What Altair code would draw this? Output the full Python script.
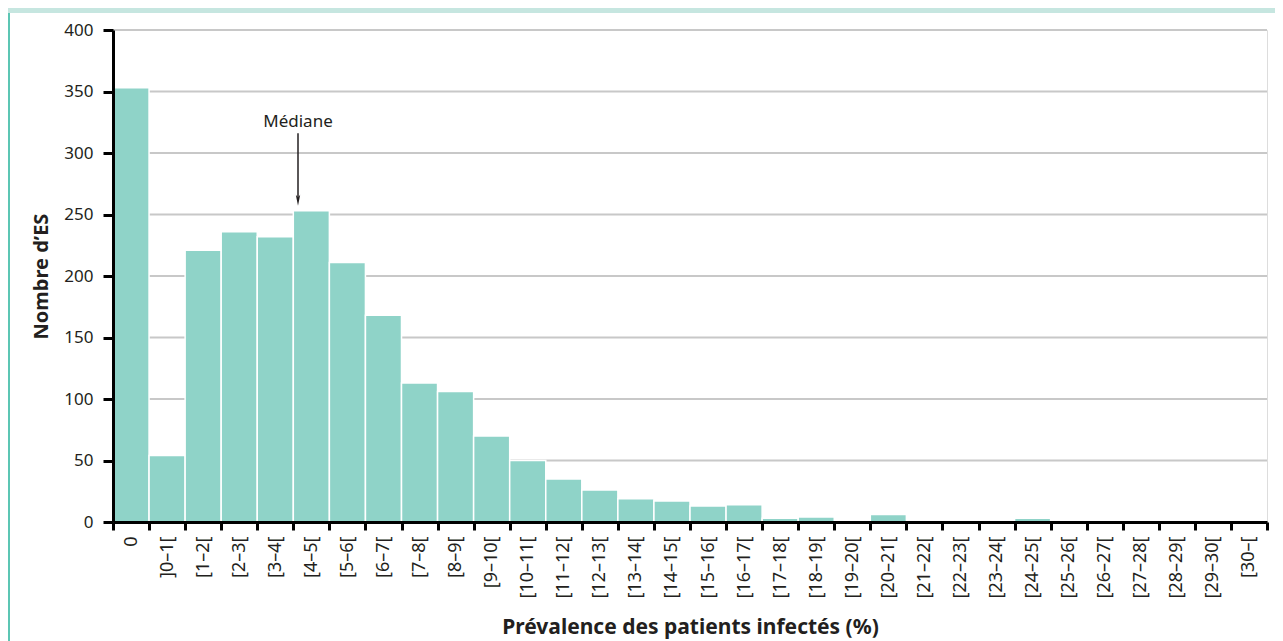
import altair as alt
import pandas as pd

categories = ["0", "]0–1[", "[1–2[", "[2–3[", "[3–4[", "[4–5[", "[5–6[", "[6–7[",
              "[7–8[", "[8–9[", "[9–10[", "[10–11[", "[11–12[", "[12–13[", "[13–14[",
              "[14–15[", "[15–16[", "[16–17[", "[17–18[", "[18–19[", "[19–20[",
              "[20–21[", "[21–22[", "[22–23[", "[23–24[", "[24–25[", "[25–26[",
              "[26–27[", "[27–28[", "[28–29[", "[29–30[", "[30–["]
counts = [353, 54, 221, 236, 232, 253, 211, 168, 113, 106, 70, 50, 35, 26, 19,
          17, 13, 14, 3, 4, 0, 6, 0, 1, 0, 3, 0, 0, 0, 0, 0, 0]
y_ticks = [0, 50, 100, 150, 200, 250, 300, 350, 400]
grid_values = [50, 100, 150, 200, 250, 300, 350, 400]
median_label = ["Médiane"]
median_cat = ["[4–5["]

FONT = "Noto Sans"
DARK = "#231f20"

df = pd.DataFrame({"cat": categories, "count": counts})
grid_df = pd.DataFrame({"v": grid_values})
med_df = pd.DataFrame({"label": median_label, "cat": median_cat})

xscale = alt.Scale(domain=categories, paddingInner=0, paddingOuter=0)
yscale = alt.Scale(domain=[0, 400], nice=False)

yaxis = alt.Axis(title="Nombre d’ES", values=y_ticks, grid=False,
                 domainColor="black", domainWidth=3,
                 tickColor="black", tickWidth=3, tickSize=10,
                 labelPadding=10, labelFontSize=17, labelColor=DARK,
                 labelFont=FONT, titleFont=FONT, titleFontSize=20,
                 titleFontWeight="bold", titleColor=DARK,
                 titleX=-66, titleBaseline="alphabetic",
                 zindex=1)

grid = alt.Chart(grid_df).mark_rule(color="#c8c8c8", strokeWidth=2).encode(
    y=alt.Y("v:Q", scale=yscale, axis=yaxis)
)

bars = alt.Chart(df).mark_bar(color="#8fd3c8", stroke="white", strokeWidth=1.5).encode(
    x=alt.X("cat:N", sort=categories, scale=xscale,
            axis=alt.Axis(title="Prévalence des patients infectés (%)",
                          labelAngle=270, labelAlign="right", labelBaseline="middle",
                          tickBand="extent", domainColor="black", domainWidth=3,
                          tickColor="black", tickWidth=3, tickSize=8,
                          labelPadding=6, labelFontSize=18, labelColor=DARK,
                          labelFont=FONT, titleFont=FONT, titleFontSize=21,
                          titleFontWeight="bold", titleColor=DARK,
                          titleY=111, titleBaseline="alphabetic",
                          grid=False, zindex=1)),
    y=alt.Y("count:Q", scale=yscale, axis=yaxis),
)

med_x = alt.X("cat:N", sort=categories, scale=xscale, bandPosition=0.13)

med_text = alt.Chart(med_df).mark_text(font=FONT, fontSize=17, color=DARK,
                                       baseline="alphabetic", align="center").encode(
    x=med_x, y=alt.datum(321), text="label:N"
)
med_rule = alt.Chart(med_df).mark_rule(color=DARK, strokeWidth=1.5).encode(
    x=med_x, y=alt.datum(316), y2=alt.datum(263)
)
med_head = alt.Chart(med_df).mark_point(shape="M-0.4,-1L0,1L0.4,-1L0,-0.5Z",
                                        filled=True, size=121, color=DARK,
                                        opacity=1).encode(
    x=med_x, y=alt.datum(261.5)
)

banner = alt.Chart(med_df).mark_rect(color="#c6e6e0").encode(
    x=alt.value(-105), x2=alt.value(1162), y=alt.value(-22), y2=alt.value(-17)
)
left_line = alt.Chart(med_df).mark_rule(color="#5cc6b4", strokeWidth=2).encode(
    x=alt.value(-104), y=alt.value(-17), y2=alt.value(611)
)

chart = alt.layer(banner, left_line, grid, bars, med_rule, med_head, med_text).properties(
    width=1154, height=492,
    autosize=alt.AutoSizeParams(type="none"),
    padding={"left": 105, "top": 22, "right": 8, "bottom": 119},
).configure_view(strokeWidth=0).configure(font=FONT)

chart.save("out.html", embed_options={"renderer": "svg", "actions": False})
